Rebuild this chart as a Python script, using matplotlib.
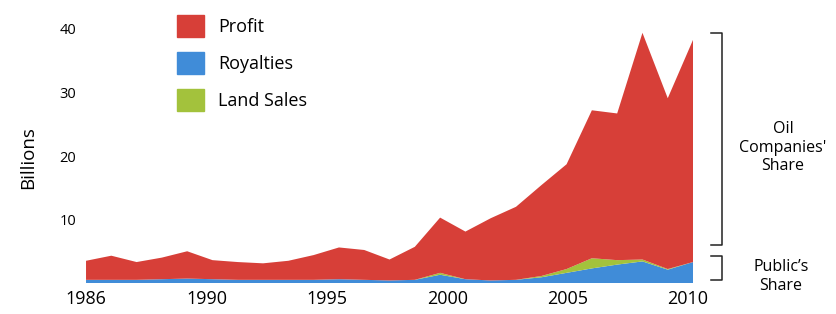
"""Stacked area: who gets the money from oil production."""

import numpy as np
import matplotlib
matplotlib.use("Agg")
import matplotlib.pyplot as plt
from matplotlib.patches import Patch

plt.rcParams["font.family"] = ["Open Sans", "DejaVu Sans"]

# data, billions of dollars
years = np.arange(1986, 2011)
total = [3.5, 4.3, 3.3, 4.0, 5.0, 3.6, 3.3, 3.1, 3.5, 4.4,
         5.6, 5.2, 3.7, 5.7, 10.3, 8.1, 10.2, 12.0, 15.4, 18.7,
         27.2, 26.7, 39.4, 29.1, 38.3]
royalties = [0.5, 0.5, 0.5, 0.6, 0.7, 0.6, 0.5, 0.5, 0.5, 0.5,
             0.6, 0.5, 0.4, 0.5, 1.3, 0.6, 0.4, 0.5, 0.9, 1.6,
             2.3, 2.9, 3.4, 2.1, 3.3]
land_sales = [0, 0, 0, 0, 0, 0, 0, 0, 0, 0,
              0, 0, 0, 0, 0.3, 0, 0, 0, 0.2, 0.6,
              1.6, 0.7, 0.3, 0.1, 0.0]
tick_labels = ["1986", "1990", "1995", "2000", "2005", "2010"]

royalties = np.array(royalties)
land_sales = np.array(land_sales)
profit = np.array(total) - royalties - land_sales

c_profit = "#d73f38"
c_royal = "#408cd8"
c_land = "#a3c23c"

fig = plt.figure(figsize=(8.36, 3.14), dpi=100)
ax = fig.add_axes([0.1029, 0.0987, 0.7261, 0.8494])

ax.stackplot(years, royalties, land_sales, profit,
             colors=[c_royal, c_land, c_profit], linewidth=0)

ax.set_xlim(1986, 2010)
ax.set_ylim(0, 42)
ax.set_yticks([10, 20, 30, 40])
# year labels are spaced evenly across the span, as in the original
ax.set_xticks(np.linspace(1986, 2009.8, len(tick_labels)))
ax.set_xticklabels(tick_labels)
ax.tick_params(axis="y", length=0, pad=7, labelsize=10.5)
ax.tick_params(axis="x", length=0, pad=5, labelsize=13)
for s in ax.spines.values():
    s.set_visible(False)

ax.set_ylabel("Billions", fontsize=13.5)
ax.yaxis.set_label_coords(-0.081, 0.47)

handles = [Patch(color=c_profit), Patch(color=c_royal), Patch(color=c_land)]
ax.legend(handles, ["Profit", "Royalties", "Land Sales"],
          loc="upper left", bbox_to_anchor=(177 / 836, 1 - 15 / 314),
          bbox_transform=fig.transFigure, frameon=False, fontsize=13,
          handlelength=1.5, handleheight=1.5, labelspacing=0.83,
          handletextpad=0.78, borderpad=0, borderaxespad=0)

# brackets on the right
trans = ax.get_yaxis_transform()
public_top = (royalties + land_sales).max() + 0.3
oil_top = max(total)
for lo, hi in [(6.0, oil_top), (0.5, public_top)]:
    ax.plot([1.030, 1.048, 1.048, 1.030], [hi, hi, lo, lo], color="#222222",
            linewidth=1.1, transform=trans, clip_on=False)

ax.text(1.148, 21.3, "Oil\nCompanies'\nShare", transform=trans,
        ha="center", va="center", fontsize=11.5, linespacing=1.2)
ax.text(1.145, 1.0, "Public’s\nShare", transform=trans,
        ha="center", va="center", fontsize=11.5, linespacing=1.3)

fig.savefig("out.png", dpi=100, facecolor="white")
